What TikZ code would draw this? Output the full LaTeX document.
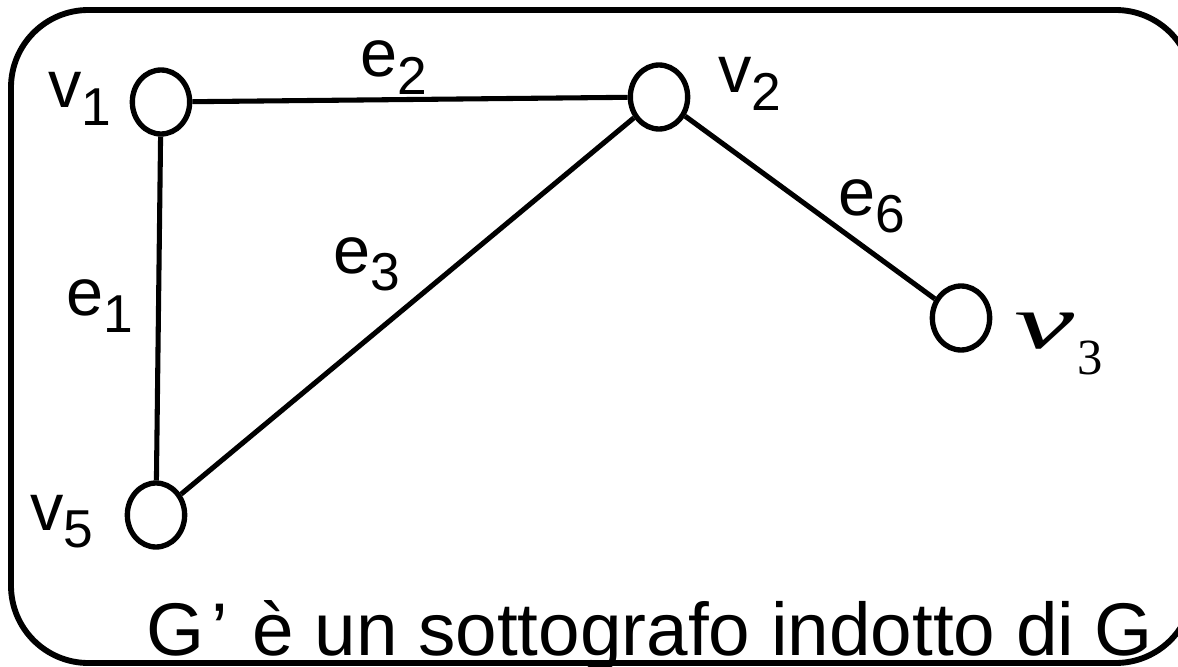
\documentclass[tikz,border=0pt]{standalone}
\usepackage{fontspec}
\usepackage{graphicx}
\setmainfont{Liberation Sans}
\newfontfamily\timesit{Liberation Serif}
\usetikzlibrary{shapes.geometric}

% label with a lowered index
\newcommand{\sublab}[2]{{\fontsize{50}{50}\selectfont #1}\raisebox{-13pt}{\fontsize{40}{40}\selectfont #2}}

\begin{document}
\begin{tikzpicture}[x=0.75pt,y=-0.75pt,line join=round]
	\tikzset{vertex/.style={draw,ellipse,line width=4pt,minimum width=43pt,minimum height=48pt,inner sep=0pt},
		edge/.style={line width=3.8pt},
		lab/.style={anchor=base west,inner sep=0pt}}
	\clip (0,0) rectangle (1178,667);
	\draw[line width=4.4pt,rounded corners=58pt] (11,10) rectangle (1193,663);
	% vertices
	\node[vertex] (v1) at (161,102) {};
	\node[vertex] (v2) at (659,97) {};
	\node[vertex] (v5) at (156,515) {};
	\node[vertex] (v3) at (961,318) {};
	% edges
	\draw[edge] (v1) -- (v2);
	\draw[edge] (v1) -- (v5);
	\draw[edge] (v5) -- (v2);
	\draw[edge] (v2) -- (v3);
	% labels
	\node[lab] (lv1) at (48,108) {\sublab{v}{1}};
	\node[lab] (lv2) at (718,93) {\sublab{v}{2}};
	\node[lab] (lv5) at (30,530) {\sublab{v}{5}};
	\node[lab] (le1) at (66,315) {\sublab{e}{1}};
	\node[lab] (le2) at (360,77) {\sublab{e}{2}};
	\node[lab] (le3) at (333,273) {\sublab{e}{3}};
	\node[lab] (le6) at (838,215) {\sublab{e}{6}};
	\node[lab] (lv3) at (1014,348) {\timesit{\fontsize{58}{58}\selectfont\itshape\scalebox{1.75}[1]{v}}\kern2pt\raisebox{-20pt}{\timesit\fontsize{38}{38}\selectfont 3}};
	\node[lab] (caption) at (146,655) {\fontsize{56}{56}\selectfont G\kern5pt’\kern3pt\ è un sottografo indotto di G};
\end{tikzpicture}
\end{document}
